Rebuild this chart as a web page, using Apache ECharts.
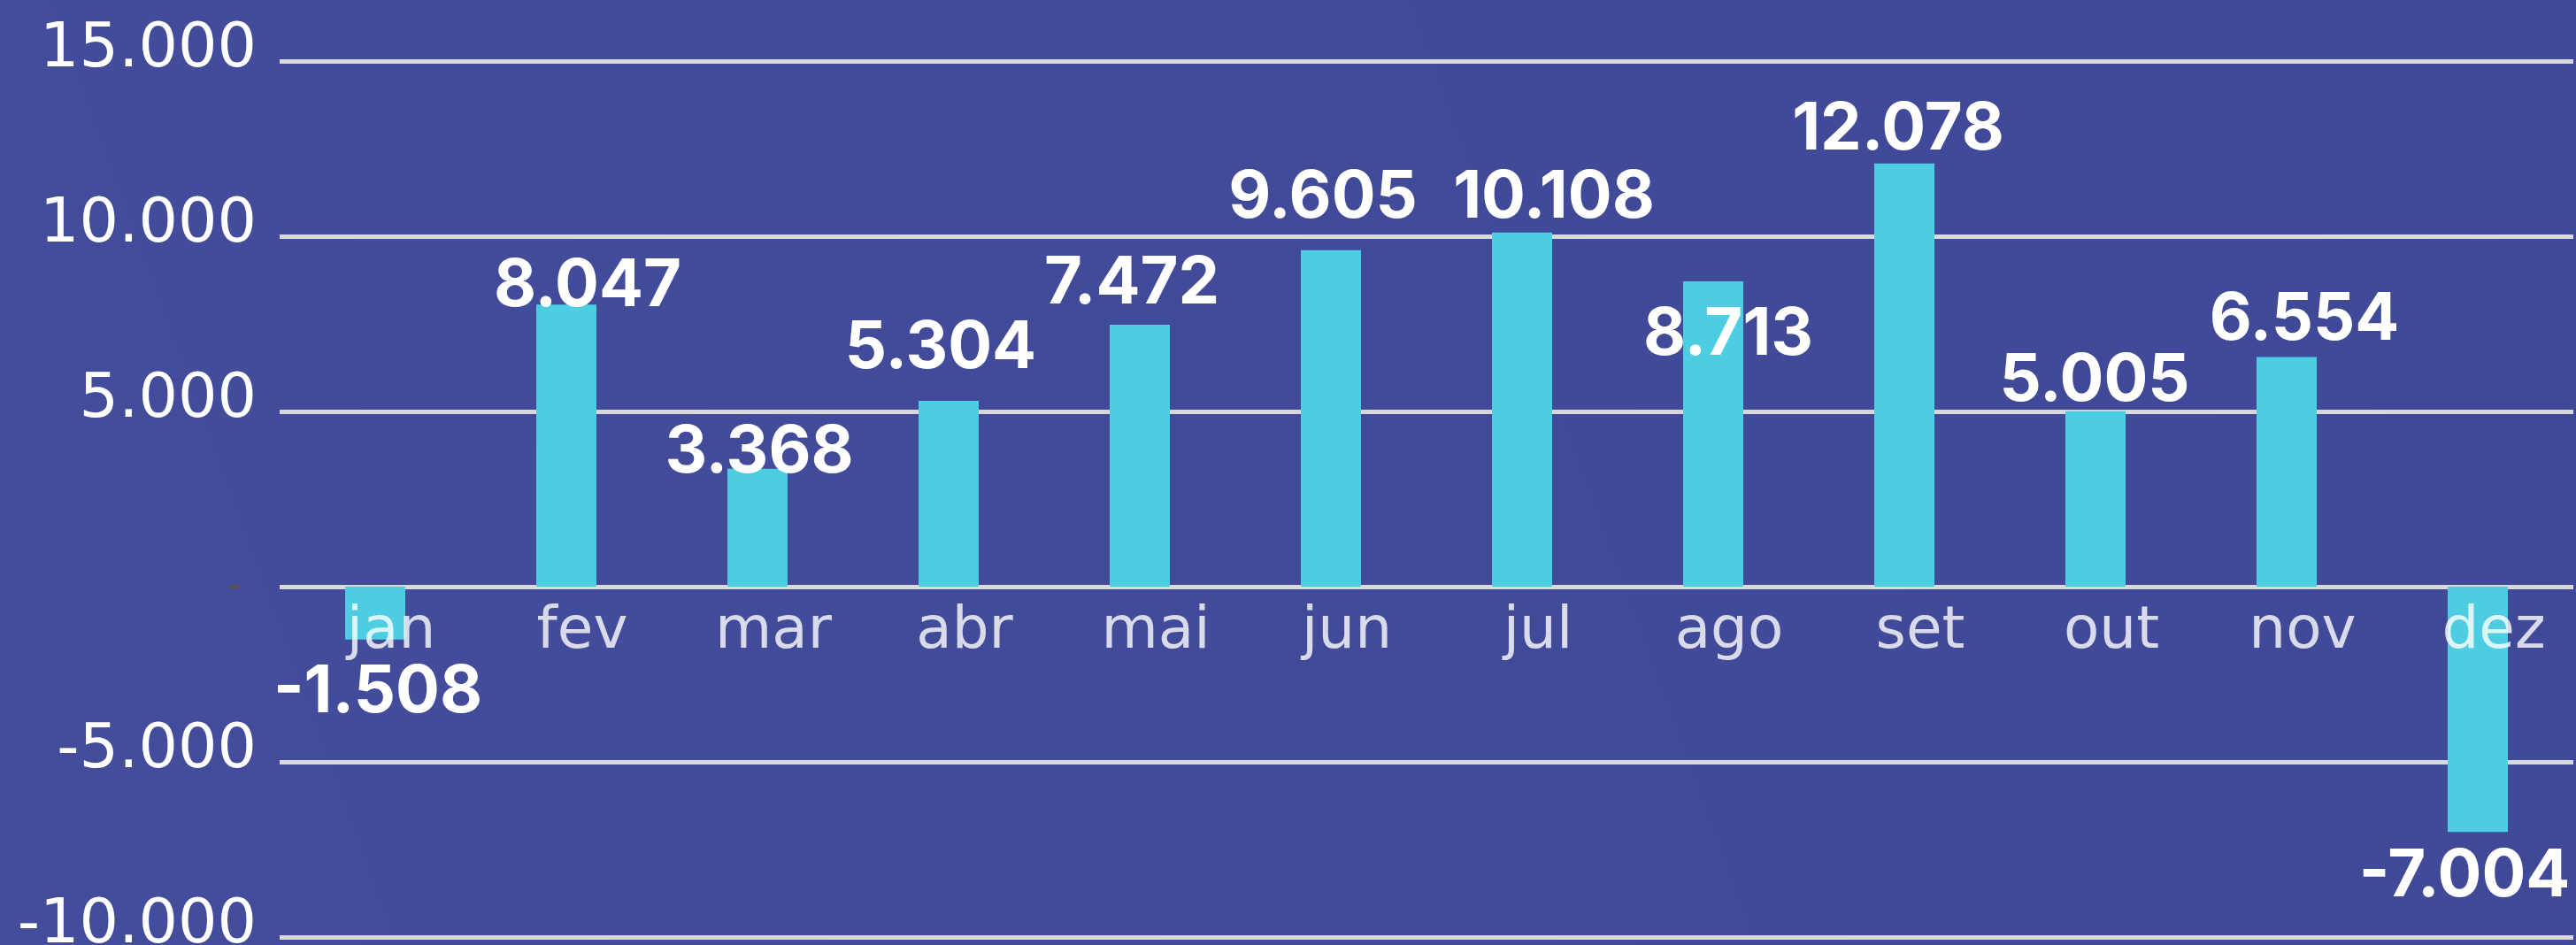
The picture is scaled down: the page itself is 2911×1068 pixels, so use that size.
<!DOCTYPE html>
<html>
<head>
<meta charset="utf-8">
<script src="https://cdn.jsdelivr.net/npm/echarts@6/dist/echarts.min.js"></script>
<style>
html, body { margin: 0; padding: 0; background: #414a99; }
#main { width: 2911px; height: 1068px; }
</style>
</head>
<body>
<div id="main"></div>
<script>
// saldo mensal
const meses = ['jan', 'fev', 'mar', 'abr', 'mai', 'jun', 'jul', 'ago', 'set', 'out', 'nov', 'dez'];
const saldo = [-1508, 8047, 3368, 5304, 7472, 9605, 10108, 8713, 12078, 5005, 6554, -7004];
const yMin = -10000;
const yMax = 15000;
const yStep = 5000;

// where each value label sits, [dx, dy] from the end of its bar
const nudge = [[3, 60], [24, -21], [2, -18], [-9, -59], [-9, -46], [-9, -59],
               [36, -39], [17, 61], [-7, -38], [-1, -34], [20, -42], [-15, 50]];

function fmt(v) {
    const s = Math.abs(v).toString().replace(/\B(?=(\d{3})+(?!\d))/g, '.');
    return (v < 0 ? '-' : '') + s;
}

const boldFont = 'Inter, "Noto Sans", sans-serif';
const axisFont = '"DejaVu Sans", "Noto Sans", sans-serif';
const chart = echarts.init(document.getElementById('main'));

chart.setOption({
    backgroundColor: {
        type: 'linear', x: 0, y: 1, x2: 1, y2: 0,
        colorStops: [{ offset: 0, color: '#434d9b' }, { offset: 1, color: '#404898' }]
    },
    animation: false,
    grid: { left: 316, right: 3, top: 69, bottom: 9, containLabel: false, outerBoundsMode: 'none' },
    xAxis: {
        type: 'category',
        data: meses,
        axisLine: { show: false },
        axisTick: { show: false },
        axisLabel: { show: false }
    },
    yAxis: {
        type: 'value',
        min: yMin,
        max: yMax,
        interval: yStep,
        axisLine: { show: false },
        axisTick: { show: false },
        splitLine: { lineStyle: { color: '#d9d9d9', width: 5 } },
        axisLabel: {
            margin: 26,
            formatter: function (v) {
                return v === 0 ? '{z|-}' : '{n|' + fmt(v) + '}';
            },
            rich: {
                n: { color: '#ffffff', fontFamily: axisFont, fontSize: 70, padding: [0, 0, 24, 0] },
                z: { color: '#555555', fontFamily: boldFont, fontWeight: 'bold', fontSize: 36, padding: [0, 17, 0, 0] }
            }
        }
    },
    series: [{
        type: 'bar',
        barWidth: 68,
        itemStyle: { color: '#4ccde2' },
        label: {
            show: true,
            distance: 0,
            verticalAlign: 'middle',
            color: '#ffffff',
            fontFamily: boldFont,
            fontWeight: 'bold',
            fontSize: 74,
            formatter: function (p) { return fmt(p.value); }
        },
        data: saldo.map(function (v, i) {
            return { value: v, label: { position: v < 0 ? 'bottom' : 'top', offset: nudge[i] } };
        })
    }, {
        // month names, hung on the zero line
        type: 'scatter',
        z: 5,
        symbolSize: 0,
        silent: true,
        label: {
            show: true,
            position: 'bottom',
            distance: 0,
            verticalAlign: 'middle',
            offset: [18, 52],
            color: '#ffffff',
            fontFamily: axisFont,
            fontSize: 66,
            formatter: function (p) { return meses[p.dataIndex]; }
        },
        data: meses.map(function (m) { return [m, 0]; })
    }]
});
</script>
</body>
</html>
